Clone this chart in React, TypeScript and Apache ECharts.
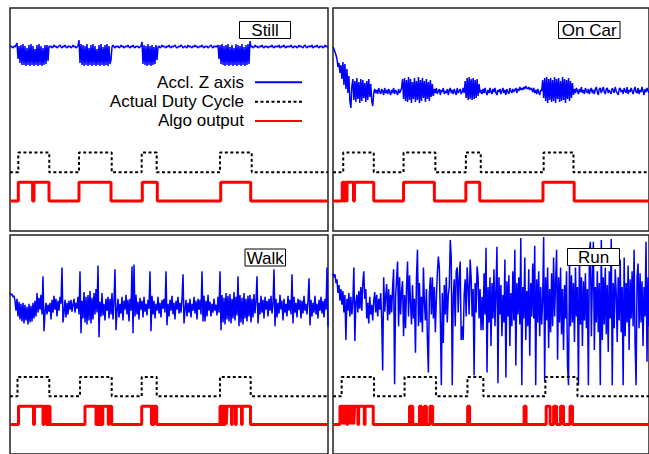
import React, { useEffect, useRef } from "react";
import * as echarts from "echarts";

const TIME_END = 318;

// Accelerometer Z axis, one sample per time step (arbitrary units)
const stillAccel = [
  34,35,34,33,35,34,36,38,22,35,18,36,16,37,16,35,15,33,16,36,
  15,37,16,35,15,32,16,36,15,37,16,35,15,33,16,36,17,36,20,35,
  34,35,33,34,36,34,35,33,34,35,36,34,33,35,34,36,34,33,35,34,
  35,33,34,36,34,35,33,34,35,41,18,37,16,36,15,35,16,37,15,33,
  16,36,15,37,16,35,15,32,16,36,15,37,16,34,15,36,16,37,15,35,
  17,21,34,36,34,33,35,34,35,33,34,36,34,35,33,34,35,34,36,34,
  33,35,34,36,34,33,35,34,35,33,34,35,39,17,36,16,35,15,37,16,
  35,15,36,16,34,17,36,21,34,35,33,34,36,34,35,34,33,35,34,36,
  34,33,35,34,35,36,34,33,34,35,34,36,35,33,34,35,34,33,36,34,
  35,34,33,35,34,36,34,35,33,34,35,34,36,34,33,35,34,35,33,34,
  35,36,34,33,35,34,35,34,36,22,36,17,37,16,35,15,36,16,37,15,
  34,16,36,15,33,16,37,15,36,16,35,15,37,16,34,15,36,16,37,17,
  40,34,35,33,34,36,34,35,33,34,35,34,36,34,33,35,34,35,33,34,
  35,34,36,34,33,35,34,35,34,36,33,34,35,34,36,34,33,35,34,35,
  34,36,34,33,35,34,35,33,34,36,34,35,34,33,35,36,34,33,35,34,
  35,34,36,33,34,35,34,36,34,33,35,34,35,33,34,36,34,35,34,
];

const onCarAccel = [
  34,32,29,26,22,14,18,8,16,2,19,-4,17,-8,12,-12,5,-20,-27,-5,
  2,-19,0,-21,3,-18,-1,-22,2,-20,1,-17,-2,-21,0,-19,2,-16,-3,-20,
  -25,-12,-8,-12,-9,-13,-7,-11,-13,-8,-10,-14,-7,-12,-9,-13,-8,-11,-14,-9,
  -12,-7,-13,-9,-11,-14,-8,-12,-10,-7,2,-18,3,-20,1,-21,4,-19,2,-22,
  -1,-18,3,-21,0,-19,4,-22,1,-20,3,-17,0,-21,2,-18,-1,-20,1,-16,
  -3,-15,-8,-12,-7,-13,-10,-8,-14,-9,-11,-7,-13,-10,-12,-8,-14,-9,-7,-12,
  -9,-13,-8,-11,-14,-7,-12,-10,-8,-13,-11,-7,-12,0,-17,3,-19,4,-18,2,
  -19,3,-18,1,-17,2,-15,-3,-12,-9,-13,-8,-12,-7,-11,-14,-9,-12,-7,-11,
  -13,-8,-11,-7,-12,-14,-9,-11,-8,-13,-10,-7,-12,-9,-14,-8,-11,-13,-7,-10,
  -12,-8,-11,-9,-7,-12,-8,-10,-6,-9,-7,-9,-6,-8,-5,-7,-8,-6,-9,-7,
  -8,-11,-7,-12,-9,-13,-8,-11,-14,-9,-10,1,-17,3,-20,4,-22,2,-19,3,
  -21,1,-20,4,-22,2,-18,3,-21,0,-20,4,-19,2,-22,1,-18,3,-20,0,
  -17,-2,-14,-8,-12,-7,-10,-13,-8,-11,-6,-12,-9,-13,-7,-10,-12,-8,-13,-9,
  -7,-12,-9,-13,-8,-6,-11,-14,-8,-7,-12,-9,-6,-11,-13,-8,-7,-12,-9,-11,
  -13,-7,-9,-12,-6,-10,-12,-14,-8,-7,-11,-9,-13,-7,-10,-12,-6,-13,-9,-11,
  -7,-10,-13,-9,-6,-11,-12,-7,-13,-9,-11,-6,-10,-14,-8,-11,-7,-10,-12,
];

const walkAccel = [
  14,12,13,10,11,6,-4,8,-10,5,-13,3,-15,4,-17,2,-14,0,-18,3,
  -16,1,-15,4,-12,6,-10,14,-6,9,-3,12,-8,31,-25,-6,4,-8,2,-5,
  4,-13,7,-6,11,-3,8,-10,6,-4,10,3,40,-16,-6,7,-11,4,-8,6,
  -3,7,-5,2,8,-6,4,-2,10,-8,36,-27,6,-12,15,-16,10,-18,12,-14,
  16,-17,9,-13,14,-8,18,-6,42,-31,5,-10,14,-9,3,-14,8,-4,10,-12,
  8,-8,14,-13,6,38,-24,-4,8,-11,3,-7,10,-14,6,-3,12,-8,7,-15,
  8,-4,41,-27,43,-10,12,-8,5,-13,9,-3,6,-11,10,-5,3,-9,7,-2,
  36,-25,11,-8,6,-12,3,-4,10,-7,4,-11,7,-2,8,-6,36,-19,3,-10,
  7,-4,11,-8,4,-13,6,-3,10,-7,4,-6,8,33,-17,-3,7,-10,4,-6,
  8,-11,3,-4,10,-7,6,-13,8,-3,7,-8,36,-15,11,-15,6,-10,12,-4,
  5,-10,3,-6,8,-4,2,-9,10,-6,36,-24,12,-16,9,-18,14,-13,11,-15,
  13,-17,8,-12,15,-14,10,-9,31,-20,12,-16,9,-18,14,-12,8,-15,11,-10,
  12,-16,8,-11,13,-7,6,31,-17,4,-8,11,-6,7,-12,10,-3,6,-10,8,
  -4,11,-7,3,38,-20,8,-11,4,-7,12,-3,6,-14,8,-6,3,-10,11,-4,
  7,-8,33,-17,10,-6,4,-11,8,-3,7,-12,6,-7,11,-4,3,-8,6,29,
  -19,7,-10,4,-6,11,-8,3,-12,7,-4,10,-7,6,-11,8,-3,40,-20,
];

const runAccel = [
  34,30,33,24,28,14,22,6,18,2,16,-6,12,-34,8,-4,14,-10,10,-8,
  6,40,-35,4,12,-6,16,-2,20,-4,24,36,8,18,-12,4,-17,10,-8,2,
  -14,6,15,-6,12,-10,8,-3,14,-12,-65,30,-5,10,23,-14,18,-8,12,-6,
  20,38,-79,10,28,46,-20,30,-8,16,26,-30,12,-22,20,46,-10,32,4,-18,
  22,-12,8,-47,30,58,-20,24,-16,10,-26,40,4,-14,18,-34,-67,14,30,-8,
  30,-12,20,-26,8,34,51,40,-10,-80,14,-37,22,-8,30,-16,12,20,68,50,
  -80,10,28,-20,36,40,-6,30,46,-34,-20,-34,12,28,-10,40,20,-8,48,30,
  -10,18,-70,24,-6,41,30,-12,18,-24,10,-24,34,-8,60,-67,20,-16,30,-40,
  24,-12,38,-20,16,61,-78,30,-8,22,-30,12,-16,48,-72,26,-10,32,-40,14,
  -20,36,-14,58,-60,24,-8,30,-18,70,-80,20,-12,50,-34,16,-20,38,-50,24,
  -10,44,-12,62,-80,28,-16,36,-30,20,-18,8,71,-76,30,-14,40,-42,18,-26,
  34,-20,50,-10,24,58,-54,30,-16,40,-28,18,-44,22,-12,36,-60,-80,48,-20,
  32,-16,24,-36,40,-10,20,-80,52,-18,30,-40,26,-14,34,-22,18,-80,56,66,
  -30,28,66,-44,20,-16,36,-26,24,-80,68,-34,30,-18,40,-28,22,-46,36,-12,
  69,-80,24,-22,38,14,-36,30,-14,48,-26,20,-80,50,-30,24,-16,42,-44,28,
  -12,36,-20,58,-38,-80,30,44,-22,34,-16,26,-40,20,-10,66,-56,30,-20,
];

// Actual duty cycle: [time, level] change points
const stillDuty = [[0,0],[8.3,1],[39.3,0],[69,1],[101.7,0],[131.7,1],[146.7,0],[210,1],[241.7,0],[318,0]];
const onCarDuty = [[0,0],[10.3,1],[41,0],[71,1],[103,0],[133.7,1],[148.7,0],[212,1],[242,0],[318,0]];
const walkDuty = [[0,0],[7.5,1],[39.3,0],[70,1],[101.7,0],[131.7,1],[146.7,0],[210,1],[240.7,0],[318,0]];
const runDuty = [[0,0],[8.7,1],[41.3,0],[72,1],[103.7,0],[135.3,1],[151.3,0],[213.7,1],[246,0],[318,0]];

// Algorithm output: [time, level] change points
const stillAlgo = [[0,0],[8.3,1],[22.6,0],[24,1],[39,0],[69,1],[101,0],[132.3,1],[147.3,0],[210.7,1],[240.7,0],[318,0]];
const onCarAlgo = [[0,0],[9.3,1],[10.6,0],[11.6,1],[13.3,0],[14.1,1],[20.6,0],[21.6,1],[41,0],[71,1],[102,0],[133.7,1],[147.7,0],[211.3,1],[242.7,0],[318,0]];
const walkAlgo = [[0,0],[8.5,1],[23.5,0],[24.5,1],[33,0],[34,1],[35,0],[35.7,1],[36.5,0],[37.3,1],[38.2,0],[39,1],[40,0],
  [75,1],[86,0],[87,1],[88,0],[89,1],[90,0],[91,1],[92,0],[92.8,1],[98.3,0],[99.2,1],[101.7,0],
  [131.7,1],[141.5,0],[142.3,1],[143.2,0],[144,1],[146.7,0],
  [210,1],[211,0],[211.8,1],[212.7,0],[213.5,1],[214.4,0],[215.2,1],[216.3,0],[217,1],[221.5,0],[222.3,1],[225.5,0],[226.3,1],[231.5,0],[232.3,1],[240.5,0],[318,0]];
const runAlgo = [[0,0],[7,1],[8,0],[8.6,1],[10,0],[10.7,1],[12,0],[12.6,1],[14,0],[14.8,1],[16,0],[16.7,1],[18.5,0],[19.2,1],[21,0],[21.7,1],[25,0],[25.8,1],[31.5,0],[32.3,1],[40.5,0],
  [77,1],[78.2,0],[79,1],[80.3,0],[87,1],[89,0],[92,1],[94,0],[97.5,1],[100.3,0],
  [135.5,1],[137.5,0],[192.3,1],[194.3,0],
  [214.5,1],[218.5,0],[222,1],[225,0],[229,1],[232,0],[238.5,1],[241,0],[318,0]];

const panelNames = ["Still", "On Car", "Walk", "Run"];
const seriesNames = ["Accl. Z axis", "Actual Duty Cycle", "Algo output"];

const panels = [
  { accel: stillAccel, duty: stillDuty, algo: stillAlgo },
  { accel: onCarAccel, duty: onCarDuty, algo: onCarAlgo },
  { accel: walkAccel, duty: walkDuty, algo: walkAlgo },
  { accel: runAccel, duty: runDuty, algo: runAlgo },
];

// layout (pixels)
const gridPos = [
  { left: 10, top: 8 },
  { left: 333, top: 8 },
  { left: 10, top: 235 },
  { left: 333, top: 235 },
];
const GRID_W = 318;
const GRID_H = 223;
const labelBoxes = [
  { x: 239.5, y: 21.5, w: 51, h: 17 },
  { x: 558.5, y: 21.5, w: 61.5, h: 17 },
  { x: 245, y: 249, w: 40.5, h: 17 },
  { x: 567.5, y: 248.5, w: 52, h: 17 },
];

const FONT = '"Liberation Sans", Arial, Helvetica, sans-serif';

export default function App() {
  const ref = useRef<HTMLDivElement>(null);

  useEffect(() => {
    if (!ref.current) return;
    const chart = echarts.init(ref.current, undefined, { renderer: "svg" });

    const grid: any[] = [];
    const xAxis: any[] = [];
    const yAxis: any[] = [];
    const series: any[] = [];

    panels.forEach((p, k) => {
      grid.push({
        left: gridPos[k].left,
        top: gridPos[k].top,
        width: GRID_W,
        height: GRID_H,
        show: true,
        borderColor: "#222",
        borderWidth: 1.5,
        backgroundColor: "transparent",
      });
      xAxis.push({ type: "value", gridIndex: k, min: 0, max: TIME_END, show: false });
      yAxis.push({ type: "value", gridIndex: k, min: -150, max: 73, show: false });
      yAxis.push({ type: "value", gridIndex: k, min: -3, max: 8.38, show: false });
      yAxis.push({ type: "value", gridIndex: k, min: -1.6, max: 10.3, show: false });

      series.push({
        type: "line",
        name: seriesNames[0],
        xAxisIndex: k,
        yAxisIndex: k * 3,
        data: p.accel.map((v, i) => [i, v]),
        symbol: "none",
        lineStyle: { color: "#0000ff", width: 1.5 },
        itemStyle: { color: "#0000ff" },
        emphasis: { disabled: true },
        silent: true,
        z: 2,
      });
      series.push({
        type: "line",
        name: seriesNames[1],
        xAxisIndex: k,
        yAxisIndex: k * 3 + 1,
        step: "end",
        data: p.duty,
        symbol: "none",
        lineStyle: { color: "#000000", width: 2, type: [3, 2.5] },
        itemStyle: { color: "#000000" },
        emphasis: { disabled: true },
        silent: true,
        z: 3,
      });
      series.push({
        type: "line",
        name: seriesNames[2],
        xAxisIndex: k,
        yAxisIndex: k * 3 + 2,
        step: "end",
        data: p.algo,
        symbol: "none",
        lineStyle: { color: "#ff0000", width: 3 },
        itemStyle: { color: "#ff0000" },
        emphasis: { disabled: true },
        silent: true,
        z: 4,
      });
    });

    const graphic: any[] = [];
    labelBoxes.forEach((b, k) => {
      graphic.push({
        type: "rect",
        shape: { x: b.x, y: b.y, width: b.w, height: b.h },
        style: { fill: "#ffffff", stroke: "#000000", lineWidth: 1 },
        z: 100,
        silent: true,
      });
      graphic.push({
        type: "text",
        x: b.x + b.w / 2,
        y: b.y + b.h / 2 + 0.5,
        style: {
          text: panelNames[k],
          fill: "#000000",
          fontSize: 17,
          fontFamily: FONT,
          align: "center",
          verticalAlign: "middle",
          textAlign: "center",
          textVerticalAlign: "middle",
        },
        z: 101,
        silent: true,
      });
    });

    chart.setOption({
      animation: false,
      grid,
      xAxis,
      yAxis,
      series,
      graphic,
      legend: {
        data: seriesNames,
        orient: "vertical",
        align: "right",
        right: 346,
        top: 72.7,
        padding: 0,
        itemGap: 0,
        itemWidth: 47,
        itemHeight: 14,
        selectedMode: false,
        itemStyle: { opacity: 0 },
        textStyle: {
          fontSize: 17,
          lineHeight: 19.3,
          color: "#000000",
          fontFamily: FONT,
          padding: [0, 6, 0, 0],
        },
      },
    });

    return () => {
      chart.dispose();
    };
  }, []);

  return (
    <div
      ref={ref}
      style={{ position: "absolute", left: 0, top: 0, width: 649, height: 454, background: "#ffffff" }}
    />
  );
}
